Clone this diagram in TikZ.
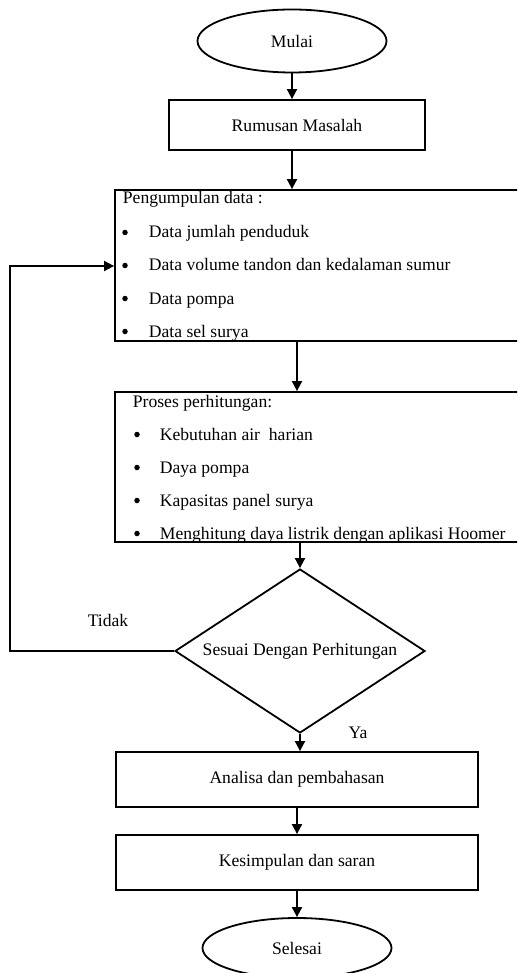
\documentclass[tikz,border=0pt]{standalone}
\usepackage{fontspec}
\setmainfont{Liberation Serif}
\usetikzlibrary{arrows.meta,shapes.geometric}

\begin{document}
\begin{tikzpicture}[x=1pt, y=-1pt, line width=1.8pt, every node/.style={font=\fontsize{17.6}{20}\selectfont}, >={Triangle[length=10pt,width=10pt]}, kotak/.style={draw, rectangle, inner sep=0pt}, teks/.style={anchor=base west, inner sep=0pt}, titik/.style={circle, fill, inner sep=0pt, minimum size=5.5pt}]
	\useasboundingbox (0,0) rectangle (517,973);
	\clip (0,0) rectangle (517,973);
	\node[draw, ellipse, minimum width=189, minimum height=63, inner sep=0pt] (mulai) at (292,41) {Mulai};
	\node[kotak, minimum width=256, minimum height=50] (rumusan) at (297,125) {Rumusan Masalah};
	\node[kotak, minimum width=415, minimum height=151] (data) at (322.5,265.5) {};
	\node[teks] (judul1) at (122,204) {Pengumpulan data :};
	\foreach \y/\isi [count=\i] in {238/Data jumlah penduduk, 271/Data volume tandon dan kedalaman sumur, 304/Data pompa, 337/Data sel surya} {
		\node[titik] (b\i) at (125,\y-5.5) {};
		\node[teks] (d\i) at (148,\y) {\isi};
	}
	\node[kotak, minimum width=415, minimum height=150] (proses) at (322.5,467) {};
	\node[teks] (judul2) at (132,407) {Proses perhitungan:};
	\foreach \y/\isi [count=\i] in {440/Kebutuhan air~~harian, 473/Daya pompa, 506/Kapasitas panel surya, 539/Menghitung daya listrik dengan aplikasi Hoomer} {
		\node[titik] (c\i) at (137,\y-5.5) {};
		\node[teks] (p\i) at (159,\y) {\isi};
	}
	\node[draw, diamond, aspect=1.52, minimum width=250, minimum height=164, inner sep=0pt] (cek) at (300,651) {Sesuai Dengan Perhitungan};
	\node[kotak, minimum width=362, minimum height=55] (analisa) at (297,779.5) {Analisa dan pembahasan};
	\node[kotak, minimum width=362, minimum height=55] (kesimpulan) at (297,862.5) {Kesimpulan dan saran};
	\node[draw, ellipse, minimum width=189, minimum height=60, inner sep=0pt] (selesai) at (297,948) {Selesai};
	\node (tidak) at (108,620) {Tidak};
	\node (ya) at (358,733) {Ya};
	\coordinate (kiri) at (10,266);
	\draw[->] (mulai.south) -- (mulai.south |- rumusan.north);
	\draw[->] (mulai.south |- rumusan.south) -- (mulai.south |- data.north);
	\draw[->] (rumusan.south |- data.south) -- (rumusan.south |- proses.north);
	\draw[->] (cek.north |- proses.south) -- (cek.north);
	\draw[->] (cek.south) -- (cek.south |- analisa.north);
	\draw[->] (analisa) -- (kesimpulan);
	\draw[->] (kesimpulan) -- (selesai);
	\draw[->] (cek.west) -| (kiri) -- (data.west |- kiri);
\end{tikzpicture}
\end{document}
